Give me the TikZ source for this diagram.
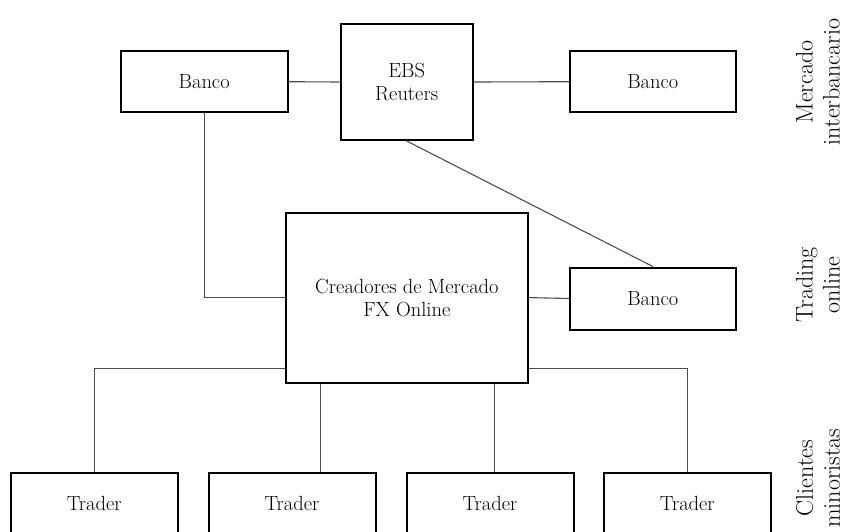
\documentclass[tikz,border=0pt]{standalone}
\usetikzlibrary{calc}
\begin{document}
\begin{tikzpicture}[x=1pt,y=-1pt,
  box/.style={draw=black,line width=2pt,fill=white,inner sep=0pt,align=center,
    font=\fontsize{20.5}{23}\selectfont},
  conn/.style={draw=black!70,line width=1.1pt},
  side/.style={rotate=90,align=center,inner sep=0pt,
    font=\fontsize{24}{27}\selectfont}]
\useasboundingbox (0,0) rectangle (845,531);
\clip (0,0) rectangle (845,531);
% nodes
\node[box,minimum width=167pt,minimum height=61pt] (bancoL) at (204.2,81.7) {Banco};
\node[box,minimum width=132pt,minimum height=116pt] (ebs) at (406.7,82) {EBS\\Reuters};
\node[box,minimum width=166pt,minimum height=61pt] (bancoR) at (652.8,81.7) {Banco};
\node[box,minimum width=241.7pt,minimum height=170pt] (cre) at (406.9,297.6) {Creadores de Mercado\\FX Online};
\node[box,minimum width=166pt,minimum height=62pt] (bancoM) at (652.8,298.5) {Banco};
\node[box,minimum width=167pt,minimum height=62pt] (t1) at (94.2,503.5) {Trader};
\node[box,minimum width=167pt,minimum height=62pt] (t2) at (292,503.5) {Trader};
\node[box,minimum width=167pt,minimum height=62pt] (t3) at (490,503.5) {Trader};
\node[box,minimum width=167pt,minimum height=62pt] (t4) at (687.3,503.5) {Trader};
% side labels
\node[side] (lab1) at (818,82) {Mercado\\interbancario};
\node[side] (lab2) at (818,285) {Trading\\online};
\node[side] (lab3) at (818,478) {Clientes\\minoristas};
% connectors
\draw[conn] (bancoL.east) -- (ebs.west);
\draw[conn] (ebs.east) -- (bancoR.west);
\draw[conn] (bancoL.south) |- (cre.west);
\draw[conn] (ebs.south) -- (bancoM.north);
\draw[conn] (cre.east) -- (bancoM.west);
\coordinate (cl) at ($(cre.south west)+(0,-15)$);
\coordinate (cr) at ($(cre.south east)+(0,-15)$);
\coordinate (c2) at ($(cre.south west)+(35.7,0)$);
\coordinate (c3) at ($(cre.south east)+(-34.4,0)$);
\draw[conn] (cl) -| (t1.north);
\draw[conn] (cr) -| (t4.north);
\draw[conn] (c2) -- (c2 |- t2.north);
\draw[conn] (c3) -- (c3 |- t3.north);
\end{tikzpicture}
\end{document}
